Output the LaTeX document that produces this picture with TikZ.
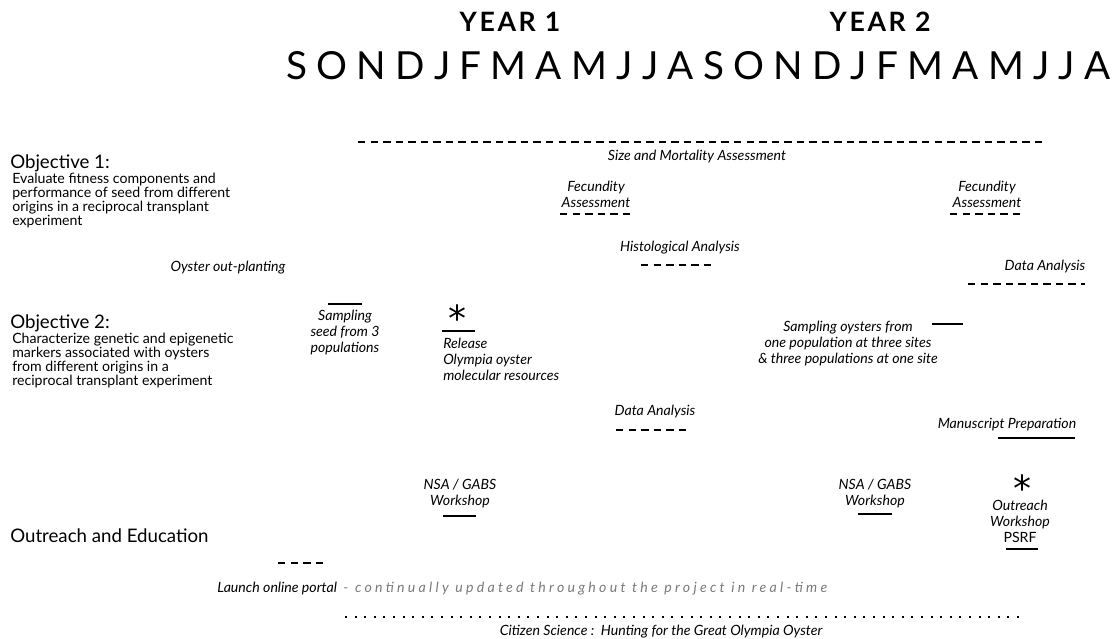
\documentclass[tikz,border=0pt]{standalone}
\usepackage{fontspec}
\setmainfont{Lato}
\newfontfamily\dejavu{DejaVu Sans}
\definecolor{portalgray}{HTML}{7A7A7A}
\begin{document}
\begin{tikzpicture}[x=0.75pt,y=-0.75pt,
  lbl/.style={font=\fontsize{10.6}{12}\selectfont\itshape, inner sep=0pt, align=center},
  head/.style={font=\fontsize{14}{16}\selectfont, anchor=base west, inner sep=0pt},
  desc/.style={font=\fontsize{10.6}{10.3}\selectfont, anchor=base west, align=left, inner sep=0pt},
  yr/.style={font=\fontsize{20}{22}\selectfont\bfseries\addfontfeature{LetterSpace=10}, inner sep=0pt},
  star/.style={font=\dejavu\fontsize{27}{27}\selectfont, inner sep=0pt, anchor=base},
  bar/.style={line width=2.2pt},
  dsh/.style={line width=2pt, dash pattern=on 5.6pt off 3.8pt},
  dts/.style={line width=1.5pt, dash pattern=on 1.5pt off 5.7pt}]
\useasboundingbox (0,0) rectangle (1118,639);

% header
\node[yr] (y1) at (510,22) {YEAR 1};
\node[yr] (y2) at (880,22) {YEAR 2};
\node[anchor=base west, inner sep=0pt, font=\fontsize{29}{30}\selectfont] (months) at (286,79)
  {\makebox[618pt]{S\hfill O\hfill N\hfill D\hfill J\hfill F\hfill M\hfill A\hfill M\hfill J\hfill J\hfill A\hfill S\hfill O\hfill N\hfill D\hfill J\hfill F\hfill M\hfill A\hfill M\hfill J\hfill J\hfill A}};

% objective 1
\node[head] (o1) at (10,168) {Objective 1:};
\node[desc] (o1d) at (12,225) {Evaluate fitness components and\\performance of seed from different\\origins in a reciprocal transplant\\experiment};

\coordinate (smA) at (358,142); \coordinate (smB) at (1042,142);
\draw[dsh] (smA) -- (smB);
\node[lbl] (sm) at (697,157) {Size and Mortality Assessment};

\node[lbl] (fe1) at (596,194.5) {Fecundity\\Assessment};
\coordinate (fe1a) at (560,214); \coordinate (fe1b) at (630,214);
\draw[dsh] (fe1a) -- (fe1b);
\node[lbl] (fe2) at (987,194.5) {Fecundity\\Assessment};
\coordinate (fe2a) at (950,214); \coordinate (fe2b) at (1022,214);
\draw[dsh] (fe2a) -- (fe2b);

\node[lbl] (hi) at (680,248) {Histological Analysis};
\coordinate (hia) at (641,265); \coordinate (hib) at (713,265);
\draw[dsh] (hia) -- (hib);

\node[lbl] (op) at (228,268) {Oyster out-planting};

\node[lbl] (da1) at (1045,267) {Data Analysis};
\coordinate (da1a) at (968,284); \coordinate (da1b) at (1085,284);
\draw[dsh] (da1a) -- (da1b);

% objective 2
\node[head] (o2) at (10,328) {Objective 2:};
\node[desc] (o2d) at (12,385) {Characterize genetic and epigenetic\\markers associated with oysters\\from different origins in a\\reciprocal transplant experiment};

\coordinate (saa) at (328,304); \coordinate (sab) at (362,304);
\draw[bar] (saa) -- (sab);
\node[lbl] (sa) at (345,333) {Sampling\\seed from 3\\populations};

\node[star] (st1) at (457,331) {\smash{*}};
\coordinate (rea) at (442,331); \coordinate (reb) at (475,331);
\draw[bar] (rea) -- (reb);
\node[lbl, anchor=west, align=left] (re) at (443,359) {Release\\Olympia oyster\\molecular resources};

\node[lbl] (so) at (848,344) {Sampling oysters from\\one population at three sites\\\& three populations at one site};
\coordinate (soa) at (932,324); \coordinate (sob) at (963,324);
\draw[bar] (soa) -- (sob);

\node[lbl] (da2) at (655,412) {Data Analysis};
\coordinate (da2a) at (616,430); \coordinate (da2b) at (690,430);
\draw[dsh] (da2a) -- (da2b);

\node[lbl] (mp) at (1007,425) {Manuscript Preparation};
\coordinate (mpa) at (998,438); \coordinate (mpb) at (1075,438);
\draw[bar] (mpa) -- (mpb);

% outreach
\node[lbl] (ns1) at (460,494) {NSA / GABS\\Workshop};
\coordinate (ns1a) at (443,516); \coordinate (ns1b) at (476,516);
\draw[bar] (ns1a) -- (ns1b);
\node[lbl] (ns2) at (875,494) {NSA / GABS\\Workshop};
\coordinate (ns2a) at (858,514); \coordinate (ns2b) at (892,514);
\draw[bar] (ns2a) -- (ns2b);

\node[star] (st2) at (1022,501) {\smash{*}};
\node[lbl] (ow) at (1020,521) {Outreach\\Workshop\\{\upshape PSRF}};
\coordinate (owa) at (1006,549); \coordinate (owb) at (1038,549);
\draw[bar] (owa) -- (owb);

\node[head] (oe) at (10,542) {Outreach and Education};

\coordinate (lpa) at (278,563); \coordinate (lpb) at (325,563);
\draw[dsh] (lpa) -- (lpb);
\node[font=\fontsize{10.6}{12}\selectfont\itshape, anchor=base west, inner sep=0pt] (lp) at (217,592)
  {Launch online portal\ \ {\color{portalgray}-\ \ \addfontfeature{LetterSpace=23}continually updated throughout the project in real-time}};

\coordinate (csa) at (345,617); \coordinate (csb) at (1025,617);
\draw[dts] (csa) -- (csb);
\node[lbl] (cs) at (661,632) {Citizen Science :\ \ Hunting for the Great Olympia Oyster};
\end{tikzpicture}
\end{document}
